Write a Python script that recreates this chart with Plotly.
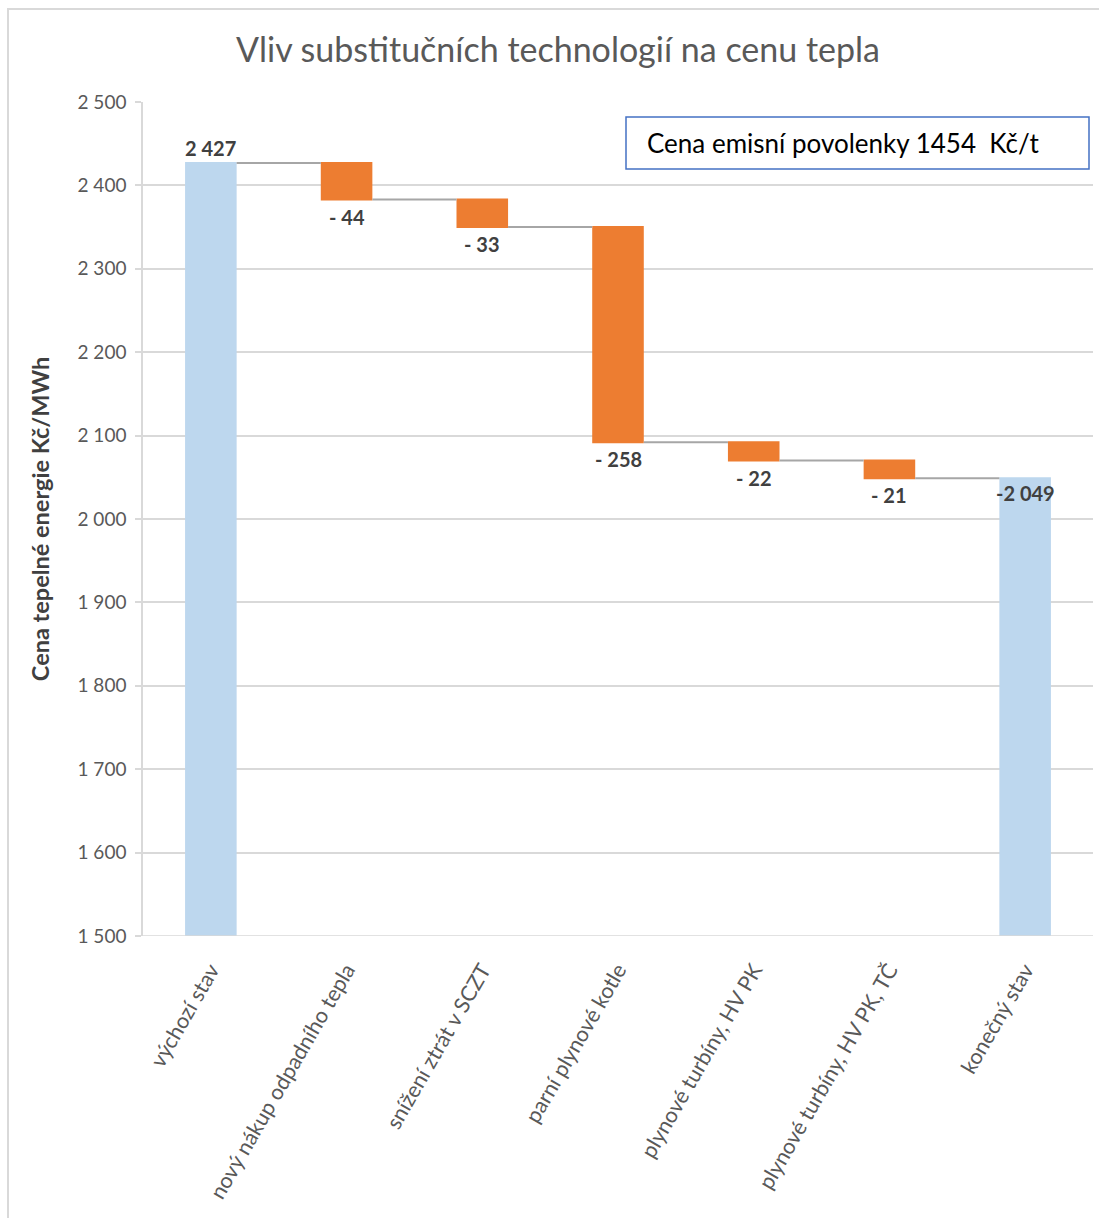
import plotly.graph_objects as go

categories = ["výchozí stav", "nový nákup odpadního tepla", "snížení ztrát v SCZT",
              "parní plynové kotle", "plynové turbíny, HV PK", "plynové turbíny, HV PK, TČ",
              "konečný stav"]
measures = ["absolute", "relative", "relative", "relative", "relative", "relative", "total"]
values = [2427, -44, -33, -258, -22, -21, 2049]
tick_vals = [1500, 1600, 1700, 1800, 1900, 2000, 2100, 2200, 2300, 2400, 2500]

title_text = "Vliv substitučních technologií na cenu tepla"
ytitle_text = "Cena tepelné energie Kč/MWh"
box_text = "Cena emisní povolenky 1454  Kč/t"

BLUE = "#bdd7ee"
ORANGE = "#ed7d31"
GRID = "#d9d9d9"
TXT = "#595959"
LBL = "#404040"
FONT = "Lato, 'Open Sans', sans-serif"

PL, PR, PT, PB = 143, 1093, 102, 936
PW, PH = PR - PL, PB - PT


def px_x(x):
    return (x - PL) / PW


def px_y(y):
    return (PB - y) / PH


def fmt(v):
    return f"{abs(v):,}".replace(",", " ")


fig = go.Figure()
fig.add_trace(go.Waterfall(
    x=categories,
    y=[v if m != "total" else 0 for v, m in zip(values, measures)],
    measure=measures,
    width=0.38,
    totals=dict(marker=dict(color=BLUE, line=dict(width=0))),
    decreasing=dict(marker=dict(color=ORANGE, line=dict(width=0))),
    increasing=dict(marker=dict(color=ORANGE, line=dict(width=0))),
    connector=dict(mode="between", line=dict(color="#a6a6a6", width=2)),
    textinfo="none",
    hoverinfo="skip",
))

# data labels
annotations = []
level = 0
LBLFONT = dict(size=20, color=LBL, family=FONT)
for cat, m, v in zip(categories, measures, values):
    if m == "absolute":
        level = v
        annotations.append(dict(x=cat, y=v, text="<b>" + fmt(v) + "</b>", showarrow=False,
                                yanchor="bottom", yshift=1, xref="x", yref="y", font=LBLFONT))
    elif m == "relative":
        level = level + v
        annotations.append(dict(x=cat, y=level, text="<b>- " + fmt(v) + "</b>", showarrow=False,
                                yanchor="top", yshift=-3, xref="x", yref="y", font=LBLFONT))
    else:
        annotations.append(dict(x=cat, y=level, text="<b>-" + fmt(v) + "</b>", showarrow=False,
                                yanchor="top", yshift=-1, xref="x", yref="y", font=LBLFONT))

# text box content
annotations.append(dict(x=px_x(645), y=px_y(143), xref="paper", yref="paper",
                        xanchor="left", yanchor="middle", showarrow=False,
                        text=box_text, align="left",
                        font=dict(size=26, color="#000000", family=FONT)))

fig.update_layout(
    width=1099, height=1218,
    margin=dict(l=PL, r=1099 - PR, t=PT, b=1218 - PB),
    paper_bgcolor="white", plot_bgcolor="white",
    separators=", ",
    showlegend=False,
    title=dict(text=title_text, x=558 / 1099, xanchor="center", xref="container",
               y=1 - 50 / 1218, yanchor="middle", yref="container",
               font=dict(size=34, color=TXT, family=FONT)),
    font=dict(family=FONT, color=TXT),
    annotations=annotations,
    xaxis=dict(tickangle=-60, tickfont=dict(size=21.5, color=TXT, family=FONT),
               showgrid=False, showline=False,
               ticks="outside", ticklen=12, tickcolor="rgba(0,0,0,0)"),
    yaxis=dict(range=[1500, 2500], tickvals=tick_vals, tickformat=",d",
               tickfont=dict(size=19, color=TXT, family=FONT),
               showgrid=True, gridcolor=GRID, gridwidth=1.5, zeroline=False,
               showline=True, linecolor=GRID, linewidth=1.5,
               ticks="outside", ticklen=6, tickcolor=GRID, tickwidth=1.5,
               ticklabelstandoff=5,
               title=dict(text="<b>" + ytitle_text + "</b>", standoff=21,
                          font=dict(size=23.5, color=LBL, family=FONT))),
    shapes=[
        dict(type="rect", xref="paper", yref="paper", x0=px_x(626), x1=px_x(1089),
             y0=px_y(169), y1=px_y(117), fillcolor="white",
             line=dict(color="#4472c4", width=1.5), layer="above"),
        dict(type="line", xref="paper", yref="paper", x0=px_x(7), x1=px_x(1099),
             y0=px_y(9), y1=px_y(9), line=dict(color=GRID, width=2)),
        dict(type="line", xref="paper", yref="paper", x0=px_x(8), x1=px_x(8),
             y0=px_y(1218), y1=px_y(9), line=dict(color=GRID, width=2)),
        dict(type="line", xref="paper", yref="y", x0=0, x1=1, y0=1500, y1=1500,
             line=dict(color=GRID, width=1.5), layer="above"),
    ],
)

fig.write_html("out.html")
